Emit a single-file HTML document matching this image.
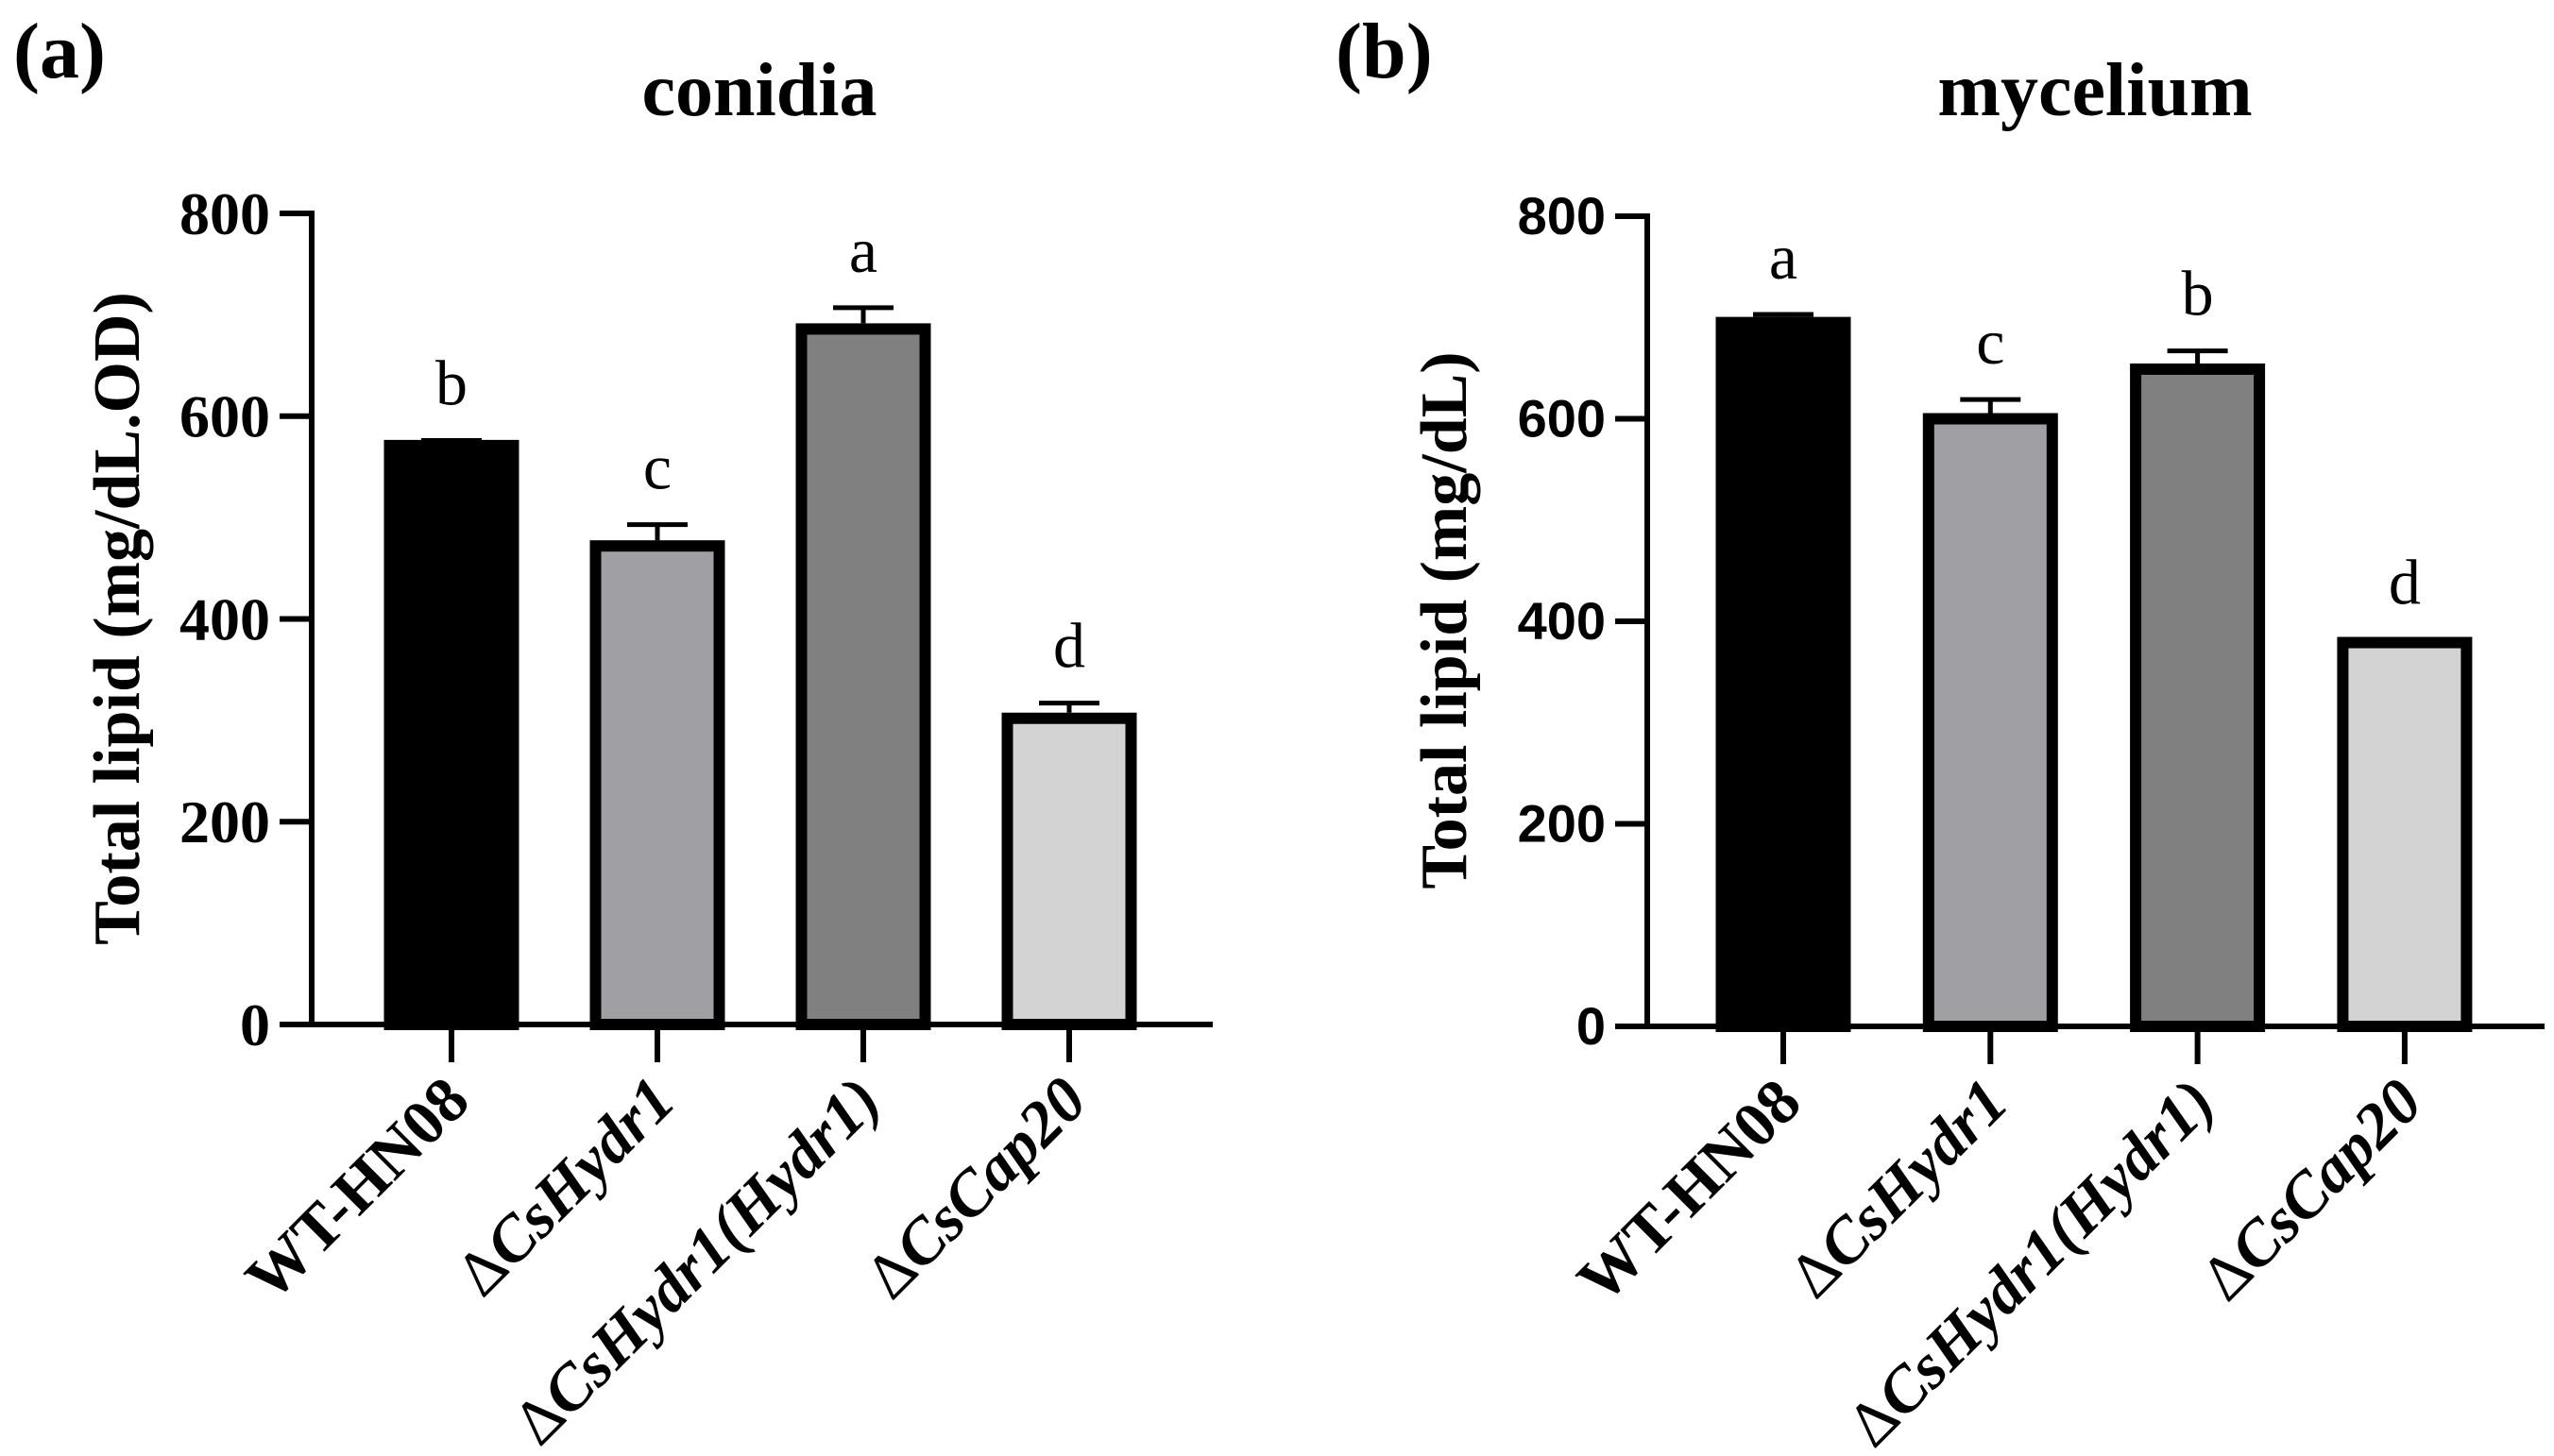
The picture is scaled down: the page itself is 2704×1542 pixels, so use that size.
<!DOCTYPE html>
<html><head><meta charset="utf-8"><style>
html,body{margin:0;padding:0;background:#fff;}
svg{display:block;}
.tm{font-family:"Liberation Serif",serif;}
.ss{font-family:"Liberation Sans",sans-serif;}
</style></head><body>
<svg id="chart" width="2704" height="1542" viewBox="0 0 2704 1542" xmlns="http://www.w3.org/2000/svg">
<text class="tm" x="14" y="82" font-size="84" font-weight="bold">(a)</text>
<text class="tm" x="804" y="122" font-size="80" font-weight="bold" text-anchor="middle">conidia</text>
<text class="tm" x="1414" y="82" font-size="84" font-weight="bold">(b)</text>
<text class="tm" x="2218" y="122" font-size="80" font-weight="bold" text-anchor="middle">mycelium</text>
<g id="pa"></g>
<g id="pb"></g>
</svg>
<script>
const categories = ["WT-HN08", "ΔCsHydr1", "ΔCsHydr1(Hydr1)", "ΔCsCap20"];
const conidiaValues = [571, 472, 686, 302];
const conidiaErrors = [5, 21, 21, 15];
const conidiaLetters = ["b", "c", "a", "d"];
const myceliumValues = [695, 600, 649, 379];
const myceliumErrors = [8, 19, 18, 3];
const myceliumLetters = ["a", "c", "b", "d"];
const yTicks = [0, 200, 400, 600, 800];
const barColors = ["#000000", "#a0a0a4", "#808080", "#d3d3d3"];

const NS = "http://www.w3.org/2000/svg";
function mk(parent, tag, attrs, text) {
  const e = document.createElementNS(NS, tag);
  for (const k in attrs) e.setAttribute(k, attrs[k]);
  if (text !== undefined) e.textContent = text;
  parent.appendChild(e);
  return e;
}
function drawPanel(g, cfg, values, errors, letters) {
  const yScale = v => cfg.y0 - (v / 800) * (cfg.y0 - cfg.y800);
  const xScale = i => cfg.c0 + i * cfg.step;
  let e = mk(g, "line", {x1: cfg.ax, y1: cfg.y800 - 3, x2: cfg.ax, y2: cfg.y0 + 3, stroke: "#000", "stroke-width": 6});
  
  
  e = mk(g, "line", {x1: cfg.ax - 3, y1: cfg.y0, x2: cfg.xend, y2: cfg.y0, stroke: "#000", "stroke-width": 6});
  
  
  yTicks.forEach(t => {
    const y = yScale(t);
    let tk = mk(g, "line", {x1: cfg.ax - 34, y1: y, x2: cfg.ax, y2: y, stroke: "#000", "stroke-width": 6});
    
    
    let lb = mk(g, "text", {x: cfg.ax - 44, y: y + cfg.tickFs * 0.34, "font-size": cfg.tickFs, "font-weight": "bold", "text-anchor": "end", class: cfg.tickClass}, String(t));
    
    
  });
  let yl = mk(g, "text", {x: 0, y: 0, "font-size": cfg.ylFs, "font-weight": "bold", "text-anchor": "middle", class: "tm", transform: `translate(${cfg.ylx},${cfg.yly}) rotate(-90)`}, cfg.ylabel);
  
  
  values.forEach((v, i) => {
    const cx = xScale(i), w = 131, top = yScale(v);
    let b = mk(g, "rect", {x: cx - w / 2, y: top, width: w, height: cfg.y0 - top, fill: barColors[i], stroke: "#000", "stroke-width": 12});
    
    
    const et = yScale(v + errors[i]);
    let eb = mk(g, "path", {d: `M${cx},${top - 6} L${cx},${et} M${cx - 32},${et} L${cx + 32},${et}`, stroke: "#000", "stroke-width": 5, fill: "none"});
    
    
    let lt = mk(g, "text", {x: cx, y: et - 38, "font-size": 68, "text-anchor": "middle", class: "tm"}, letters[i]);
    
    
    let xt = mk(g, "line", {x1: cx, y1: cfg.y0, x2: cx, y2: cfg.y0 + 40, stroke: "#000", "stroke-width": 6});
    
    
    const t = mk(g, "text", {x: 0, y: 0, "font-size": 68, "font-weight": "bold", "text-anchor": "end", class: "tm", transform: `translate(${cx + 22},${cfg.y0 + 84}) rotate(-45)`});
    
    
    const name = categories[i];
    if (name[0] === "Δ") {
      mk(t, "tspan", {"font-weight": "normal"}, "Δ");
      mk(t, "tspan", {"font-style": "italic"}, name.slice(1));
    } else {
      t.textContent = name;
    }
  });
}
drawPanel(document.getElementById("pa"), {ax: 330, xend: 1284, y0: 1085, y800: 226, c0: 478, step: 218, tickFs: 64, tickClass: "tm", ylFs: 70, ylx: 147, yly: 655, ylabel: "Total lipid (mg/dL.OD)"}, conidiaValues, conidiaErrors, conidiaLetters);
drawPanel(document.getElementById("pb"), {ax: 1744, xend: 2694, y0: 1087, y800: 229, c0: 1888, step: 219.3, tickFs: 56, tickClass: "ss", ylFs: 70, ylx: 1552, yly: 657, ylabel: "Total lipid (mg/dL)"}, myceliumValues, myceliumErrors, myceliumLetters);
</script>
</body></html>
